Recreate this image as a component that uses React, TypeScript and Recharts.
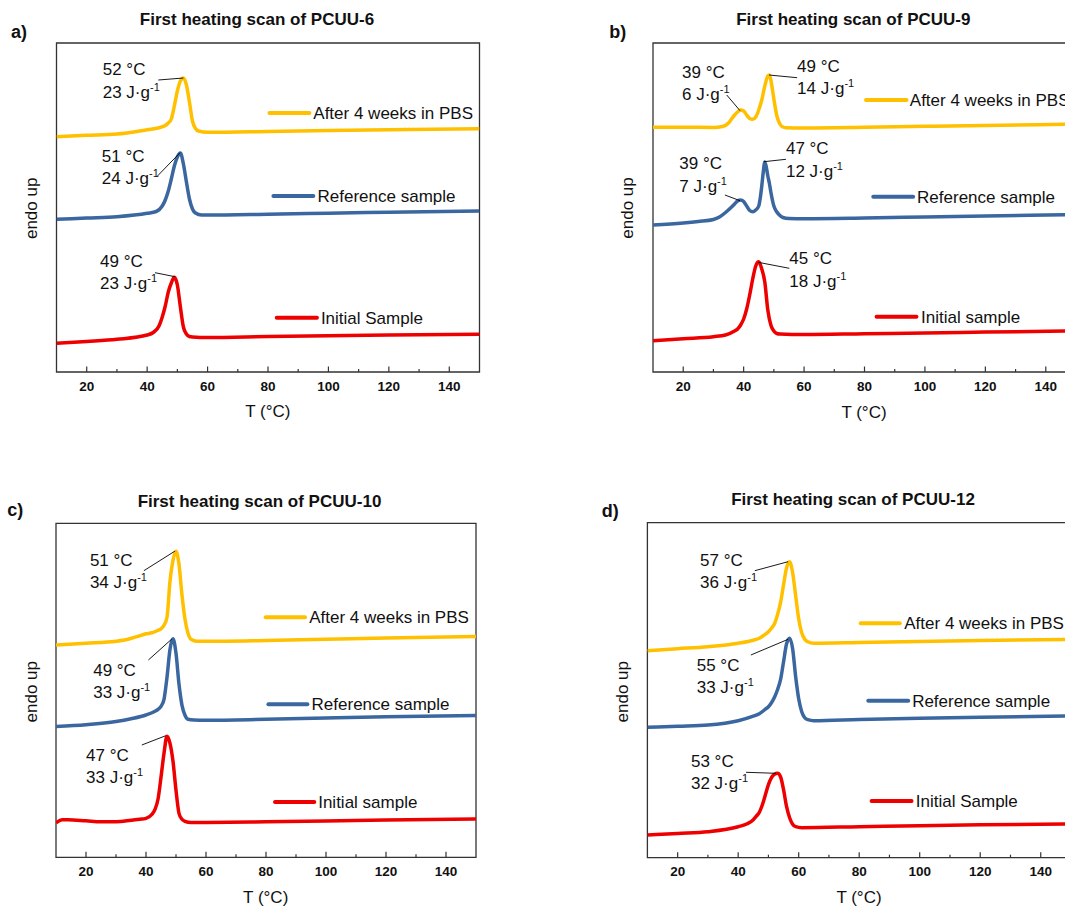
import React from "react";
import { LineChart, Line, XAxis, YAxis, ReferenceArea, ReferenceLine, ReferenceDot } from "recharts";

type Pt = [number, number];

const FONT = "Arial, 'Liberation Sans', Helvetica, sans-serif";
const YELLOW = "#FFC000";
const BLUE = "#3A679F";
const RED = "#EE0000";
const AXIS = "#333";

// temperature axis (°C)
const tempTicks = [10, 20, 30, 40, 50, 60, 70, 80, 90, 100, 110, 120, 130, 140, 150];
const labelledTicks = [20, 40, 60, 80, 100, 120, 140];

// heat flow, arbitrary units (endo up), curves offset vertically
const pcuu6Pbs: Pt[] = [[10, 235.3], [20, 236.7], [30, 238], [40, 242.3], [44, 244.3], [46, 246.5], [47, 249], [48, 253], [49, 266], [50, 281], [51, 291], [52, 294], [53, 287], [54, 270], [55, 251], [56, 243.5], [57, 241], [60, 239.7], [80, 240.5], [100, 241.5], [120, 242.3], [150, 243.3]];
const pcuu6Ref: Pt[] = [[10, 152.7], [20, 154], [30, 155.3], [40, 158.7], [43, 160.5], [45, 166], [46, 172], [47, 181], [48, 193], [49, 206], [50, 215], [51, 219], [52, 208], [53, 190], [54, 173], [55, 163], [56, 159], [58, 157], [60, 157], [80, 157.8], [100, 158.8], [120, 159.8], [150, 161]];
const pcuu6Init: Pt[] = [[10, 28.7], [20, 30.5], [30, 32.7], [40, 37], [42, 39.5], [44, 46.5], [45, 55], [46, 66], [47, 80], [48, 89], [49, 94.7], [50, 87], [51, 65], [52, 45], [53, 38], [54, 35.5], [55, 35], [60, 34.5], [80, 35.5], [100, 36.3], [120, 37], [150, 37.7]];

const pcuu9Pbs: Pt[] = [[10, 244.7], [20, 244.7], [30, 244.6], [33, 245.5], [35, 249], [36, 253], [37, 257], [38, 260], [39, 262], [40, 261], [41, 257], [42, 253.5], [43, 252.7], [44, 255], [45, 262], [46, 272], [47, 286], [48, 296], [48.5, 297], [49, 292], [50, 273], [51, 256], [52, 248], [53, 245], [54, 244.3], [60, 244], [80, 244.7], [100, 245.7], [120, 246.5], [150, 247.8]];
const pcuu9Ref: Pt[] = [[10, 147], [20, 149], [25, 150.5], [30, 152.5], [32, 155], [34, 159.5], [36, 165], [37, 168], [38, 171], [39, 172], [40, 170.5], [41, 166], [42, 161.5], [43, 160.3], [44, 162], [45, 166], [45.5, 174], [46, 186], [46.5, 200], [47, 210], [47.5, 205], [48, 196], [48.5, 189], [49, 180], [50, 166], [51, 160], [52, 156.5], [53, 154.5], [55, 153.5], [60, 153.3], [80, 154], [100, 155], [120, 156], [150, 157.5]];
const pcuu9Init: Pt[] = [[10, 31.3], [20, 33.3], [30, 35.3], [34, 37], [37, 41], [38, 43], [39, 47], [40, 53], [41, 63], [42, 77], [43, 93], [44, 106], [45, 110.3], [46, 103], [47, 90], [48, 62], [49, 47], [50, 41], [51, 38.5], [52, 38], [60, 37.5], [80, 38.3], [100, 39], [120, 40], [150, 41]];

const pcuu10Pbs: Pt[] = [[10, 212.3], [20, 214], [30, 216], [34, 218], [37, 220.7], [40, 223.5], [42, 224.5], [44, 227], [45, 228.5], [46, 232], [47, 240], [48, 276], [49, 297], [50, 306], [51, 293], [52, 262], [53, 238], [54, 224], [55, 218], [57, 216], [60, 216], [80, 216.8], [100, 218], [120, 219.3], [150, 220.7]];
const pcuu10Ref: Pt[] = [[10, 130.7], [20, 132.5], [30, 135.7], [35, 138.5], [40, 142.3], [43, 146], [44, 148], [45, 151], [46, 158], [47, 180], [48, 208], [49, 218.5], [50, 204], [51, 173], [52, 152], [53, 142], [54, 138], [56, 137.3], [60, 137], [80, 138], [100, 139.3], [120, 140.5], [150, 141.7]];
const pcuu10Init: Pt[] = [[10, 34.5], [12, 37.5], [14, 37.5], [20, 36.5], [25, 35.6], [30, 35.6], [35, 37], [38, 38], [40, 39], [42, 43], [43, 48], [44, 58], [45, 80], [46, 104], [47, 121], [48, 114], [49, 96], [50, 67], [51, 44], [52, 38], [53, 36], [55, 34.7], [60, 34.8], [80, 35.5], [100, 36.3], [120, 37.2], [150, 38.3]];

const pcuu12Pbs: Pt[] = [[10, 207], [20, 209], [30, 211], [40, 214.5], [45, 217.5], [47, 219.5], [49, 223.5], [50, 226], [51, 229.5], [52, 234], [53, 243], [54, 255], [55, 273], [56, 290], [57, 296], [58, 285], [59, 262], [60, 239], [61, 225], [62, 218.5], [63, 216], [65, 214.4], [80, 215.2], [100, 216.3], [120, 217.3], [150, 218.3]];
const pcuu12Ref: Pt[] = [[10, 130.4], [20, 131.5], [30, 132.7], [40, 137], [45, 141.5], [47, 144], [49, 148.5], [50, 151], [51, 155], [52, 160.5], [53, 168], [54, 178], [55, 196], [56, 214], [57, 219.4], [58, 209], [59, 181], [60, 159], [61, 146], [62, 140], [63, 138], [65, 137], [80, 138.2], [100, 139.4], [120, 140.5], [150, 141.7]];
const pcuu12Init: Pt[] = [[10, 22.7], [20, 24.3], [30, 26], [40, 31], [43, 34], [45, 38], [46, 41.5], [47, 45.5], [48, 53], [49, 63], [50, 73], [51, 80], [52, 83.5], [53, 84.4], [54, 81], [55, 68], [56, 51], [57, 40], [58, 33.5], [59, 31], [61, 30], [80, 31], [100, 32], [120, 32.9], [150, 33.7]];

const titles = ["First heating scan of PCUU-6", "First heating scan of PCUU-9", "First heating scan of PCUU-10", "First heating scan of PCUU-12"];
const letters = ["a)", "b)", "c)", "d)"];
const names6 = ["After 4 weeks in PBS", "Reference sample", "Initial Sample"];
const names9 = ["After 4 weeks in PBS", "Reference sample", "Initial sample"];
const names10 = ["After 4 weeks in PBS", "Reference sample", "Initial sample"];
const names12 = ["After 4 weeks in PBS", "Reference sample", "Initial Sample"];

// peak labels: melting temperature and enthalpy
type Note = { temp: string; dh: string; at: Pt; from: Pt; to: Pt };
const notes6: Note[] = [
  { temp: "52 °C", dh: "23", at: [25.3, 302.7], from: [43.7, 292], to: [52, 294] },
  { temp: "51 °C", dh: "24", at: [25, 216], from: [43.2, 195.3], to: [50.9, 219.3] },
  { temp: "49 °C", dh: "23", at: [24.4, 111], from: [42.6, 99.3], to: [49.2, 95.3] },
];
const notes9: Note[] = [
  { temp: "39 °C", dh: "6", at: [19.6, 300.3], from: [34.4, 277], to: [38.8, 261.3] },
  { temp: "49 °C", dh: "14", at: [57.7, 306], from: [48.4, 297], to: [57.7, 294.3] },
  { temp: "39 °C", dh: "7", at: [18.7, 208.7], from: [33.8, 177], to: [38.8, 171.3] },
  { temp: "47 °C", dh: "12", at: [54, 223.7], from: [46.7, 210.3], to: [54, 212.7] },
  { temp: "45 °C", dh: "18", at: [55.1, 113.7], from: [44.8, 109.7], to: [55.1, 103.7] },
];
const notes10: Note[] = [
  { temp: "51 °C", dh: "34", at: [21.3, 297.3], from: [39.3, 286.6], to: [49.7, 306.3] },
  { temp: "49 °C", dh: "33", at: [22.4, 187.3], from: [40.8, 197.3], to: [48.6, 218.3] },
  { temp: "47 °C", dh: "33", at: [20, 102.3], from: [38.6, 112.3], to: [46.6, 121.6] },
];
const notes12: Note[] = [
  { temp: "57 °C", dh: "36", at: [27.4, 297.7], from: [45.5, 287], to: [56.5, 296] },
  { temp: "55 °C", dh: "33", at: [26.3, 192.7], from: [44.2, 202.7], to: [56.5, 218.4] },
  { temp: "53 °C", dh: "32", at: [24.4, 96.7], from: [42.6, 85.4], to: [52.5, 84.4] },
];

// legend key placement: [line start T, line end T, level, text start T]
const keys6 = [[80.5, 93.7, 259, 95.0], [81.8, 95.0, 176, 96.4], [82.9, 96.2, 54.3, 97.5]];
const keys9 = [[80.5, 93.9, 272, 95.0], [82.9, 96.1, 175.3, 97.4], [84.0, 97.2, 55.3, 98.7]];
const keys10 = [[79.9, 93.0, 240, 94.4], [80.8, 93.8, 153, 95.2], [83.0, 96.1, 55.3, 97.4]];
const keys12 = [[80.5, 93.4, 234.4, 94.9], [83.0, 96.2, 157, 97.5], [84.1, 97.3, 56.7, 98.7]];

const colors = [YELLOW, BLUE, RED];

const panels = [
  {
    series: [pcuu6Pbs, pcuu6Ref, pcuu6Init], names: names6, notes: notes6, keys: keys6,
    box: { left: 0, top: 0, width: 500, height: 430 },
    margin: { top: 33, right: 20.5, bottom: 28, left: 56.5 }, yMax: 329,
    titleAt: [257, 19], letterAt: [11, 31.7], endoAt: [31, 208.3], tAt: [267.8, 410.7],
  },
  {
    series: [pcuu9Pbs, pcuu9Ref, pcuu9Init], names: names9, notes: notes9, keys: keys9,
    box: { left: 560, top: 0, width: 536, height: 430 },
    margin: { top: 33, right: 20, bottom: 28, left: 93 }, yMax: 329,
    titleAt: [853.3, 19], letterAt: [609.3, 31.7], endoAt: [627, 208], tAt: [864, 411.7],
  },
  {
    series: [pcuu10Pbs, pcuu10Ref, pcuu10Init], names: names10, notes: notes10, keys: keys10,
    box: { left: 0, top: 480, width: 500, height: 430 },
    margin: { top: 33.3, right: 24, bottom: 22.7, left: 56 }, yMax: 334,
    titleAt: [259.5, 500.7], letterAt: [7.3, 510], endoAt: [30.8, 691.7], tAt: [265.7, 896.7],
  },
  {
    series: [pcuu12Pbs, pcuu12Ref, pcuu12Init], names: names12, notes: notes12, keys: keys12,
    box: { left: 560, top: 480, width: 531, height: 430 },
    margin: { top: 32.7, right: 20, bottom: 22.3, left: 87.4 }, yMax: 335,
    titleAt: [853, 499], letterAt: [601.7, 510.7], endoAt: [622, 691.7], tAt: [859, 896.7],
  },
];

const BottomTick = (props: any) => {
  const { x, y, payload } = props;
  const v = payload.value;
  const major = v % 20 === 0;
  const edge = v === 10 || v === 150;
  return (
    <g>
      {!edge && <line x1={x} x2={x} y1={y} y2={y - (major ? 5.5 : 3)} stroke={AXIS} strokeWidth={1.2} />}
      {labelledTicks.includes(v) && (
        <text x={x} y={y + 14} dy="0.35em" textAnchor="middle" fontFamily={FONT} fontSize={13.5} fontWeight="bold" fill="#111">
          {v}
        </text>
      )}
    </g>
  );
};

const TopTick = (props: any) => {
  const { x, y, payload } = props;
  const v = payload.value;
  if (v === 10 || v === 150) return <g />;
  return <line x1={x} x2={x} y1={y} y2={y + (v % 20 === 0 ? 5.5 : 3)} stroke={AXIS} strokeWidth={1.2} />;
};

function NoteText({ cx, cy, temp, dh }: { cx: number; cy: number; temp: string; dh: string }) {
  return (
    <text x={cx} y={cy} fontFamily={FONT} fontSize={17} fill="#111">
      <tspan x={cx} dy="0.35em">{temp}</tspan>
      <tspan x={cx} dy={22.5}>{dh} J·g</tspan>
      <tspan dy={-7} fontSize={11}>-1</tspan>
    </text>
  );
}

function Panel({ p }: { p: (typeof panels)[number] }) {
  return (
    <div style={{ position: "absolute", left: p.box.left, top: p.box.top }}>
      <LineChart width={p.box.width} height={p.box.height} margin={p.margin}>
        <XAxis
          dataKey="T"
          type="number"
          domain={[10, 150]}
          ticks={tempTicks}
          interval={0}
          allowDataOverflow
          axisLine={false}
          tickLine={false}
          tickSize={0}
          tickMargin={0}
          height={30}
          tick={BottomTick}
        />
        <XAxis
          xAxisId="top"
          orientation="top"
          type="number"
          domain={[10, 150]}
          ticks={tempTicks}
          interval={0}
          axisLine={false}
          tickLine={false}
          tickSize={0}
          tickMargin={0}
          height={10}
          tick={TopTick}
        />
        <YAxis type="number" domain={[0, p.yMax]} hide allowDataOverflow />
        {p.series.map((s, i) => (
          <Line
            key={i}
            data={s.map(([T, v]) => ({ T, v }))}
            dataKey="v"
            type="monotone"
            stroke={colors[i]}
            strokeWidth={3.5}
            dot={false}
            activeDot={false}
            isAnimationActive={false}
          />
        ))}
        {p.keys.map((k, i) => (
          <ReferenceLine
            key={"kl" + i}
            segment={[{ x: k[0], y: k[2] }, { x: k[1], y: k[2] }]}
            stroke={colors[i]}
            strokeWidth={4}
            strokeLinecap="round"
            ifOverflow="visible"
          />
        ))}
        {p.keys.map((k, i) => (
          <ReferenceDot
            key={"kt" + i}
            x={k[3]}
            y={k[2]}
            r={1}
            ifOverflow="visible"
            shape={(d: any) => (
              <text x={d.cx} y={d.cy} dy="0.35em" fontFamily={FONT} fontSize={17} fill="#111">
                {p.names[i]}
              </text>
            )}
          />
        ))}
        {p.notes.map((n, i) => (
          <ReferenceLine
            key={"nl" + i}
            segment={[{ x: n.from[0], y: n.from[1] }, { x: n.to[0], y: n.to[1] }]}
            stroke="#000"
            strokeWidth={0.9}
            ifOverflow="visible"
          />
        ))}
        {p.notes.map((n, i) => (
          <ReferenceDot
            key={"nt" + i}
            x={n.at[0]}
            y={n.at[1]}
            r={1}
            ifOverflow="visible"
            shape={(d: any) => <NoteText cx={d.cx} cy={d.cy} temp={n.temp} dh={n.dh} />}
          />
        ))}
        <ReferenceArea x1={10} x2={150} y1={0} y2={p.yMax} fill="none" stroke={AXIS} strokeWidth={1.3} ifOverflow="visible" />
      </LineChart>
    </div>
  );
}

export default function App() {
  return (
    <div style={{ position: "absolute", left: 0, top: 0, width: 1065, height: 908, overflow: "hidden", background: "#fff" }}>
      {panels.map((p, i) => (
        <Panel key={i} p={p} />
      ))}
      <svg width={1065} height={908} style={{ position: "absolute", left: 0, top: 0, pointerEvents: "none" }}>
        {panels.map((p, i) => (
          <g key={i} fontFamily={FONT} fill="#111">
            <text x={p.titleAt[0]} y={p.titleAt[1]} dy="0.35em" textAnchor="middle" fontSize={17} fontWeight="bold">
              {titles[i]}
            </text>
            <text x={p.letterAt[0]} y={p.letterAt[1]} dy="0.35em" fontSize={18} fontWeight="bold">
              {letters[i]}
            </text>
            <text
              x={p.endoAt[0]}
              y={p.endoAt[1]}
              dy="0.35em"
              textAnchor="middle"
              fontSize={17}
              transform={`rotate(-90 ${p.endoAt[0]} ${p.endoAt[1]})`}
            >
              endo up
            </text>
            <text x={p.tAt[0]} y={p.tAt[1]} dy="0.35em" textAnchor="middle" fontSize={17}>
              T (°C)
            </text>
          </g>
        ))}
      </svg>
    </div>
  );
}
